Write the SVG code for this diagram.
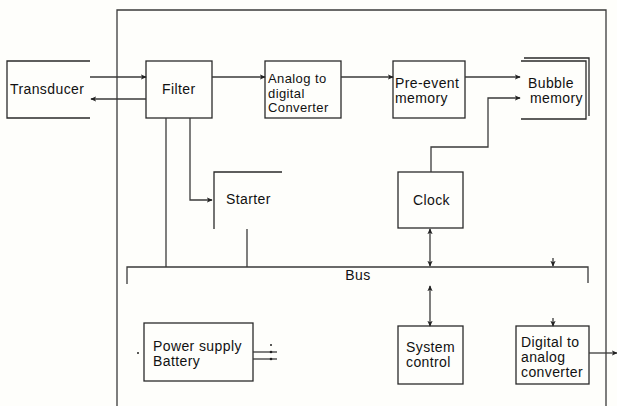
<svg xmlns="http://www.w3.org/2000/svg" width="617" height="406" viewBox="0 0 617 406">
<style>
.ln{fill:none;stroke:#3a3a3a;stroke-width:1.3}
.bx{fill:none;stroke:#2a2a2a;stroke-width:1.3}
.t{font-family:"Liberation Sans",Arial,sans-serif;font-size:14px;letter-spacing:0.4px;fill:#111}
.ts{font-size:13px}
.tc{text-anchor:middle}
</style>
<defs>
<marker id="ah" viewBox="0 0 8 8" refX="7" refY="4" markerWidth="6" markerHeight="6" orient="auto-start-reverse" markerUnits="userSpaceOnUse">
<path d="M0,0.5 L8,4 L0,7.5 L2,4 Z" fill="#222"/>
</marker>
</defs>
<rect width="617" height="406" fill="#fefefb"/>
<g id="frame">
<path class="ln" d="M117,406 V10 H606 V406"/>
</g>
<g id="transducer">
<path class="bx" d="M90,61 H7 V118 H90"/>
<text class="t" x="10" y="94">Transducer</text>
</g>
<g id="filter">
<rect class="bx" x="146" y="61" width="66" height="57"/>
<text class="t" x="162" y="94">Filter</text>
</g>
<g id="adc">
<rect class="bx" x="265" y="61" width="76" height="57"/>
<text class="t ts" x="268" y="83">Analog to</text>
<text class="t ts" x="268" y="97.5">digital</text>
<text class="t ts" x="268" y="112">Converter</text>
</g>
<g id="preevent">
<rect class="bx" x="393" y="61" width="72" height="57"/>
<text class="t" x="395" y="88">Pre-event</text>
<text class="t" x="395" y="103">memory</text>
</g>
<g id="bubble">
<path class="bx" d="M524,58 H589 V116"/>
<path class="bx" d="M521,61 H586 V119 H521"/>
<text class="t" x="528" y="88">Bubble</text>
<text class="t" x="530" y="103">memory</text>
</g>
<g id="starter">
<path class="bx" d="M282,172 H214 V229"/>
<text class="t" x="226" y="204">Starter</text>
</g>
<g id="clock">
<rect class="bx" x="398" y="172" width="65" height="56"/>
<text class="t" x="413" y="205">Clock</text>
</g>
<g id="bus">
<path class="ln" d="M127,284 V267 H588 V283"/>
<text class="t tc" x="358" y="280">Bus</text>
</g>
<g id="power">
<rect class="bx" x="144" y="323" width="109" height="58"/>
<text class="t" x="153" y="351">Power supply</text>
<text class="t" x="153" y="366">Battery</text>
<circle cx="138" cy="353" r="1" fill="#222"/>
</g>
<g id="sysctl">
<rect class="bx" x="398" y="326" width="65" height="58"/>
<text class="t" x="406" y="352">System</text>
<text class="t" x="406" y="367">control</text>
</g>
<g id="dac">
<rect class="bx" x="516" y="326" width="73" height="58"/>
<text class="t" x="521" y="347">Digital to</text>
<text class="t" x="521" y="362">analog</text>
<text class="t" x="521" y="377">converter</text>
</g>
<g id="connectors">
<path class="ln" d="M90,77 H146" marker-end="url(#ah)"/>
<path class="ln" d="M146,99 H91" marker-end="url(#ah)"/>
<path class="ln" d="M212,77 H265" marker-end="url(#ah)"/>
<path class="ln" d="M341,77 H393" marker-end="url(#ah)"/>
<path class="ln" d="M465,77 H520" marker-end="url(#ah)"/>
<path class="ln" d="M431,172 V147 H488 V98 H520" marker-end="url(#ah)"/>
<path class="ln" d="M166,118 V267"/>
<path class="ln" d="M190,118 V200 H212" marker-end="url(#ah)"/>
<path class="ln" d="M247,229 V267"/>
<path class="ln" d="M430,229 V266" marker-start="url(#ah)" marker-end="url(#ah)"/>
<path class="ln" d="M430,286 V326" marker-start="url(#ah)" marker-end="url(#ah)"/>
<path class="ln" d="M553,258 V266" marker-end="url(#ah)"/>
<path class="ln" d="M553,318 V326" marker-end="url(#ah)"/>
<path class="ln" d="M589,353 H617" marker-end="url(#ah)"/>
<path class="ln" d="M253,352 H277"/>
<path class="ln" d="M253,359 H277"/>
<circle cx="271" cy="345" r="1" fill="#222"/>
<circle cx="271" cy="352" r="1.3" fill="#222"/>
<circle cx="271" cy="359" r="1.3" fill="#222"/>
</g>
</svg>
